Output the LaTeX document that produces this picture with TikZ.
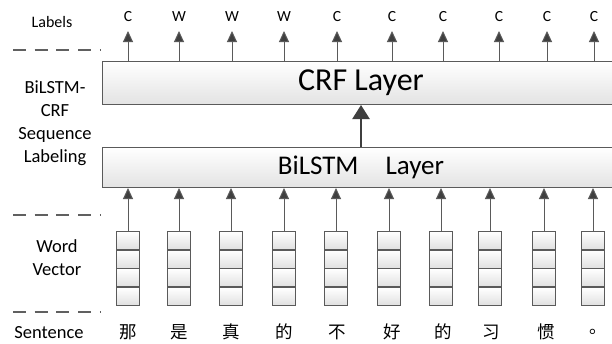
\documentclass[tikz,border=0pt]{standalone}
\usepackage{fontspec}
\setmainfont{Carlito}
\newfontfamily\cjk{Noto Sans CJK SC}
\usetikzlibrary{arrows.meta}
\definecolor{linegray}{HTML}{5A5A5A}
\definecolor{headgray}{HTML}{3F3F3F}
\definecolor{dashgray}{HTML}{606060}
\begin{document}
\begin{tikzpicture}[x=1pt,y=-1pt,
  layerbox/.style={draw=linegray, line width=1pt, top color=white, bottom color=black!11,
    minimum width=518pt, inner sep=0pt, anchor=north west},
  cell/.style={draw=linegray, line width=0.9pt, top color=white, bottom color=black!12,
    minimum width=23pt, minimum height=17.8pt, inner sep=0pt, anchor=north},
  smallarrow/.style={draw=linegray, line width=1pt, -{Triangle[length=11pt,width=10pt,fill=headgray]}},
  bigarrow/.style={draw=headgray, line width=2.4pt, -{Triangle[length=14pt,width=17pt]}},
  sepline/.style={draw=dashgray, line width=1.1pt, dash pattern=on 13pt off 8.7pt},
  sidetext/.style={font=\fontsize{18.5}{23}\selectfont, align=center, inner sep=0pt},
  tagtext/.style={font=\fontsize{15.5}{17}\selectfont, inner sep=0pt},
  hanzi/.style={font=\cjk\fontsize{17.5}{18}\selectfont, inner sep=0pt}
]
\useasboundingbox (0,0) rectangle (612,343);
\begin{scope}
\clip (0,0) rectangle (612,343);

% layer boxes
\node[layerbox, minimum height=43pt] (crf) at (102,61) {};
\node[font=\fontsize{32}{34}\selectfont, inner sep=0pt] (crftext) at (361,82.5) {CRF Layer};
\node[layerbox, minimum height=40pt] (bil) at (102,147) {};
\node[font=\fontsize{27}{30}\selectfont, inner sep=0pt] (biltext) at (361,167) {BiLSTM\hspace{27pt}Layer};

% middle arrow
\draw[bigarrow] (bil.north -| biltext.center) -- (crf.south -| biltext.center);

% dashed separators
\coordinate (d1a) at (13,50);  \coordinate (d1b) at (101,50);
\coordinate (d2a) at (13,215); \coordinate (d2b) at (101,215);
\coordinate (d3a) at (13,312); \coordinate (d3b) at (101,312);
\draw[sepline] (d1a) -- (d1b);
\draw[sepline] (d2a) -- (d2b);
\draw[sepline] (d3a) -- (d3b);

% side texts
\node[sidetext, font=\fontsize{16}{18}\selectfont] (tLabels) at (52,22) {Labels};
\node[sidetext] (tModel) at (55,123) {BiLSTM-\\CRF\\Sequence\\Labeling};
\node[sidetext] (tWord) at (57,257.5) {Word\\Vector};
\node[sidetext] (tSent) at (49,333) {Sentence};

% top labels and arrows
\foreach \x/\t [count=\i] in {128/C,179/W,232/W,284/W,337/C,392/C,443/C,499/C,547/C,594/C}{
  \node[tagtext] (tag\i) at (\x,17) {\t};
  \coordinate (tip\i) at (\x,31);
  \draw[smallarrow] (crf.north -| tip\i) -- (tip\i);
}

% word vectors and arrows
\foreach \x [count=\i] in {128,179,231,284,336,389,441,490,544,593}{
  \node[cell] (v\i a) at (\x,231) {};
  \node[cell] (v\i b) at (v\i a.south) {};
  \node[cell] (v\i c) at (v\i b.south) {};
  \node[cell] (v\i d) at (v\i c.south) {};
  \draw[smallarrow] (v\i a.north) -- (bil.south -| v\i a.north);
}

% sentence characters
\foreach \x/\c [count=\i] in {128/那,179/是,231/真,284/的,337/不,392/好,443/的,491/习,546/惯,598.5/。}{
  \node[hanzi] (h\i) at (\x,332) {\c};
}
\end{scope}
\end{tikzpicture}
\end{document}
